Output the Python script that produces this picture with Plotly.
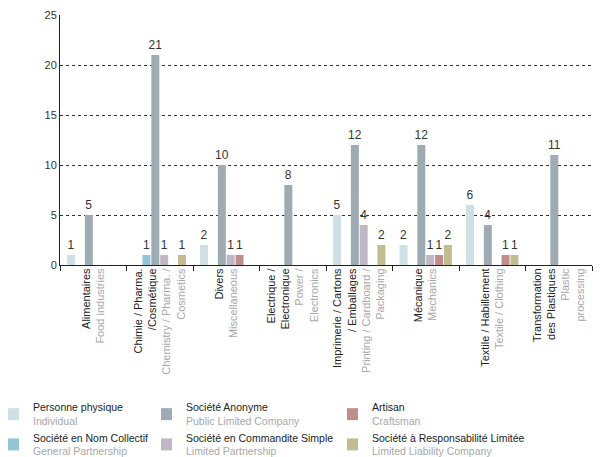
import plotly.graph_objects as go

categories_fr = ["Alimentaires", "Chimie / Pharma.<br>/Cosmétique", "Divers", "Electrique /<br>Electronique",
                 "Imprimerie / Cartons<br>/ Emballages", "Mécanique", "Textile / Habillement",
                 "Transformation<br>des Plastiques"]
categories_en = ["Food industries", "Chemistry / Pharma. /<br>Cosmetics", "Miscellaneous", "Power /<br>Electronics",
                 "Printing / Cardboard /<br>Packaging", "Mechanics", "Textile / Clothing",
                 "Plastic<br>processing"]

series_fr = ["Personne physique", "Société en Nom Collectif", "Société Anonyme",
             "Société en Commandite Simple", "Artisan", "Société à Responsabilité Limitée"]
series_en = ["Individual", "General Partnership", "Public Limited Company",
             "Limited Partnership", "Craftsman", "Limited Liability Company"]

personne = [1, None, 2, None, 5, 2, 6, None]
snc = [None, 1, None, None, None, None, None, None]
sa = [5, 21, 10, 8, 12, 12, 4, 11]
scs = [None, 1, 1, None, 4, 1, None, None]
artisan = [None, None, 1, None, None, 1, 1, None]
sarl = [None, 1, None, None, 2, 2, 1, None]
values = [personne, snc, sa, scs, artisan, sarl]

colors = ["#cfdfe6", "#94c4d6", "#9eabb3", "#bfb7c5", "#bf8e8b", "#c4bb92"]
legend_ids = ["legend", "legend", "legend2", "legend2", "legend3", "legend3"]

GRAY = "#a8a8a8"
DARK = "#222222"

# page body has an 8px margin; figure taller than the window so the legend is not clipped
W, H = 603, 470
ML, MR, MT = 52, 19, 7
MB = H - 257
PW = W - ML - MR

tick_labels = [f"{fr}<br><span style='color:{GRAY}'>{en}</span>" for fr, en in zip(categories_fr, categories_en)]
cat_keys = [f"c{i}" for i in range(len(categories_fr))]

fig = go.Figure()
for i, (vals, fr, en) in enumerate(zip(values, series_fr, series_en)):
    fig.add_trace(go.Bar(
        x=cat_keys, y=vals,
        name=f"{fr}<br><span style='color:{GRAY}'>{en}</span>",
        marker=dict(color=colors[i], line=dict(width=0)),
        text=[("" if v is None else str(v)) for v in vals],
        textposition="outside", constraintext="none", cliponaxis=False,
        textfont=dict(size=12, color="#333333"),
        legend=legend_ids[i],
        hoverinfo="skip",
    ))

leg_common = dict(yref="container", xanchor="left", yanchor="top",
                  orientation="v", font=dict(size=10.5, color=DARK), bgcolor="rgba(0,0,0,0)",
                  tracegroupgap=0, itemclick=False, indentation=-15)

leg_top = 1 - 386 / H

fig.update_layout(
    width=W, height=H,
    margin=dict(l=ML, r=MR, t=MT, b=MB, autoexpand=False),
    paper_bgcolor="white", plot_bgcolor="white",
    font=dict(family="Liberation Sans, Arial, sans-serif", size=11, color=DARK),
    barmode="group", bargap=0.2, bargroupgap=0.1,
    showlegend=True,
    legend=dict(xref="container", x=0.0, y=leg_top, **leg_common),
    legend2=dict(xref="paper", x=(153 - ML) / PW, y=leg_top, **leg_common),
    legend3=dict(xref="paper", x=(339 - ML) / PW, y=leg_top, **leg_common),
    xaxis=dict(
        tickvals=cat_keys, ticktext=tick_labels, tickangle=-90,
        tickson="boundaries", ticks="outside", ticklen=5, tickcolor=DARK,
        showline=True, linecolor=DARK, linewidth=1, showgrid=False,
        tickfont=dict(size=11, color=DARK), fixedrange=True,
        ticklabelstandoff=-2,
    ),
    yaxis=dict(
        range=[0, 25], tickvals=[0, 5, 10, 15, 20, 25],
        showline=True, linecolor=DARK, linewidth=1,
        showgrid=True, gridcolor="#333333", griddash="dot", gridwidth=1,
        zeroline=False, ticks="", tickfont=dict(size=11, color="#333333"),
        fixedrange=True,
    ),
)

fig.write_html("out.html")
